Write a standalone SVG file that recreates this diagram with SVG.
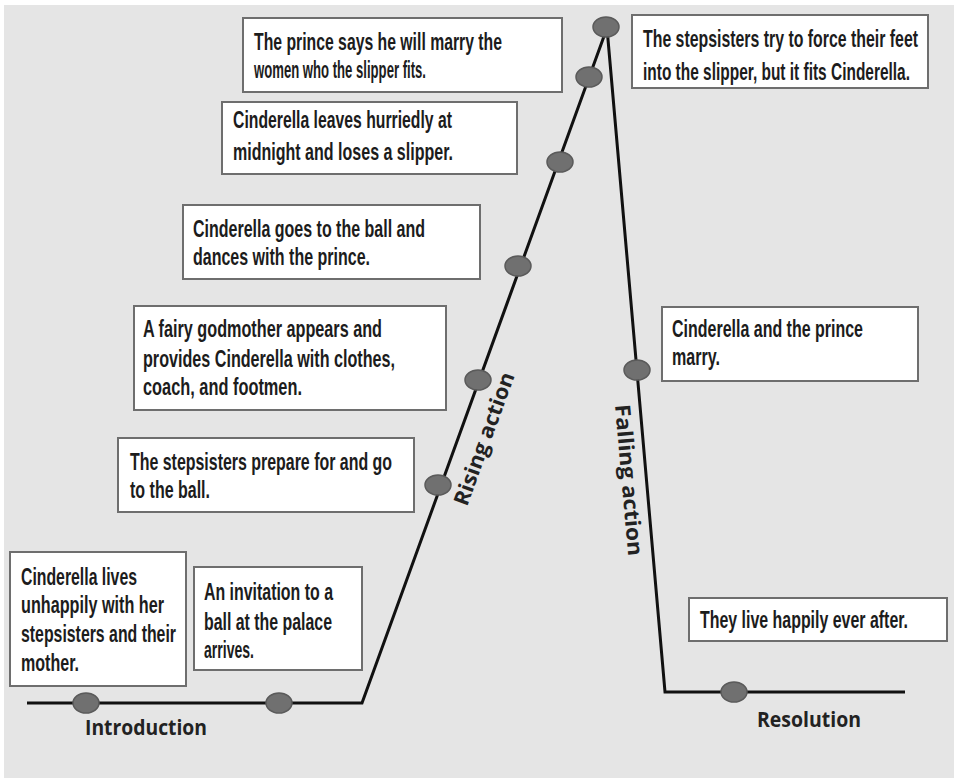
<svg xmlns="http://www.w3.org/2000/svg" width="954" height="778" viewBox="0 0 954 778">
<style>
.box{fill:#ffffff;stroke:#6e6e6e;stroke-width:2}
.dot{fill:#707070;stroke:#5a5a5a;stroke-width:1.5}
.t{font-family:"Liberation Sans Narrow","Liberation Sans",Arial,sans-serif;font-weight:bold;font-size:24px;fill:#1c1c1c}
.lbl{font-family:"Open Sans","Liberation Sans",sans-serif;font-weight:bold;font-size:21px;fill:#222222}
.plot{fill:none;stroke:#111111;stroke-width:3;stroke-linejoin:miter}
</style>
<rect x="0" y="0" width="954" height="778" fill="#ffffff"/>
<rect x="4" y="5" width="950" height="773" fill="#e5e5e5"/>

<g id="connectors">
<polyline class="plot" points="27,703 362,703 607,28 665,692 905,692"/>
</g>

<g id="n1">
<rect class="box" x="10" y="552" width="176" height="134"/>
<text class="t" x="21" y="585" textLength="116" lengthAdjust="spacingAndGlyphs">Cinderella lives</text>
<text class="t" x="21" y="613" textLength="143" lengthAdjust="spacingAndGlyphs">unhappily with her</text>
<text class="t" x="21" y="642" textLength="155" lengthAdjust="spacingAndGlyphs">stepsisters and their</text>
<text class="t" x="21" y="671" textLength="58" lengthAdjust="spacingAndGlyphs">mother.</text>
<ellipse class="dot" cx="86" cy="703" rx="13" ry="10"/>
</g>

<g id="n2">
<rect class="box" x="194" y="567" width="168" height="103"/>
<text class="t" x="204" y="600" textLength="129" lengthAdjust="spacingAndGlyphs">An invitation to a</text>
<text class="t" x="204" y="630" textLength="128" lengthAdjust="spacingAndGlyphs">ball at the palace</text>
<text class="t" x="204" y="658" textLength="50" lengthAdjust="spacingAndGlyphs">arrives.</text>
<ellipse class="dot" cx="279" cy="703" rx="13" ry="10"/>
</g>

<g id="n3">
<rect class="box" x="118" y="438" width="296" height="74"/>
<text class="t" x="130" y="470" textLength="262" lengthAdjust="spacingAndGlyphs">The stepsisters prepare for and go</text>
<text class="t" x="130" y="498" textLength="80" lengthAdjust="spacingAndGlyphs">to the ball.</text>
<ellipse class="dot" cx="438" cy="485" rx="13" ry="10"/>
</g>

<g id="n4">
<rect class="box" x="134" y="306" width="312" height="104"/>
<text class="t" x="143" y="337" textLength="239" lengthAdjust="spacingAndGlyphs">A fairy godmother appears and</text>
<text class="t" x="143" y="367" textLength="252" lengthAdjust="spacingAndGlyphs">provides Cinderella with clothes,</text>
<text class="t" x="143" y="395" textLength="159" lengthAdjust="spacingAndGlyphs">coach, and footmen.</text>
<ellipse class="dot" cx="478" cy="380" rx="13" ry="10"/>
</g>

<g id="n5">
<rect class="box" x="183" y="205" width="297" height="74"/>
<text class="t" x="193" y="237" textLength="232" lengthAdjust="spacingAndGlyphs">Cinderella goes to the ball and</text>
<text class="t" x="193" y="265" textLength="177" lengthAdjust="spacingAndGlyphs">dances with the prince.</text>
<ellipse class="dot" cx="518" cy="266" rx="13" ry="10"/>
</g>

<g id="n6">
<rect class="box" x="222" y="102" width="295" height="72"/>
<text class="t" x="233" y="128" textLength="219" lengthAdjust="spacingAndGlyphs">Cinderella leaves hurriedly at</text>
<text class="t" x="233" y="160" textLength="220" lengthAdjust="spacingAndGlyphs">midnight and loses a slipper.</text>
<ellipse class="dot" cx="560" cy="162" rx="13" ry="10"/>
</g>

<g id="n7">
<rect class="box" x="243" y="18" width="319" height="74"/>
<text class="t" x="254" y="50" textLength="248" lengthAdjust="spacingAndGlyphs">The prince says he will marry the</text>
<text class="t" x="254" y="78" textLength="172" lengthAdjust="spacingAndGlyphs">women who the slipper fits.</text>
<ellipse class="dot" cx="589" cy="77" rx="13" ry="10"/>
</g>

<g id="n8">
<rect class="box" x="632" y="15" width="296" height="73"/>
<text class="t" x="643" y="47" textLength="275" lengthAdjust="spacingAndGlyphs">The stepsisters try to force their feet</text>
<text class="t" x="643" y="80" textLength="267" lengthAdjust="spacingAndGlyphs">into the slipper, but it fits Cinderella.</text>
<ellipse class="dot" cx="606" cy="27" rx="13" ry="10"/>
</g>

<g id="n9">
<rect class="box" x="662" y="307" width="256" height="74"/>
<text class="t" x="672" y="337" textLength="191" lengthAdjust="spacingAndGlyphs">Cinderella and the prince</text>
<text class="t" x="672" y="365" textLength="48" lengthAdjust="spacingAndGlyphs">marry.</text>
<ellipse class="dot" cx="637" cy="370" rx="13" ry="10"/>
</g>

<g id="n10">
<rect class="box" x="689" y="598" width="258" height="43"/>
<text class="t" x="700" y="628" textLength="208" lengthAdjust="spacingAndGlyphs">They live happily ever after.</text>
<ellipse class="dot" cx="734" cy="692" rx="13" ry="10"/>
</g>

<g id="labels">
<text class="lbl" x="85" y="735" textLength="122" lengthAdjust="spacingAndGlyphs">Introduction</text>
<text class="lbl" x="757" y="727" textLength="104" lengthAdjust="spacingAndGlyphs">Resolution</text>
<text class="lbl" transform="translate(467,507) rotate(-70)" textLength="140" lengthAdjust="spacingAndGlyphs">Rising action</text>
<text class="lbl" transform="translate(615,405) rotate(85)" textLength="152" lengthAdjust="spacingAndGlyphs">Falling action</text>
</g>
</svg>
